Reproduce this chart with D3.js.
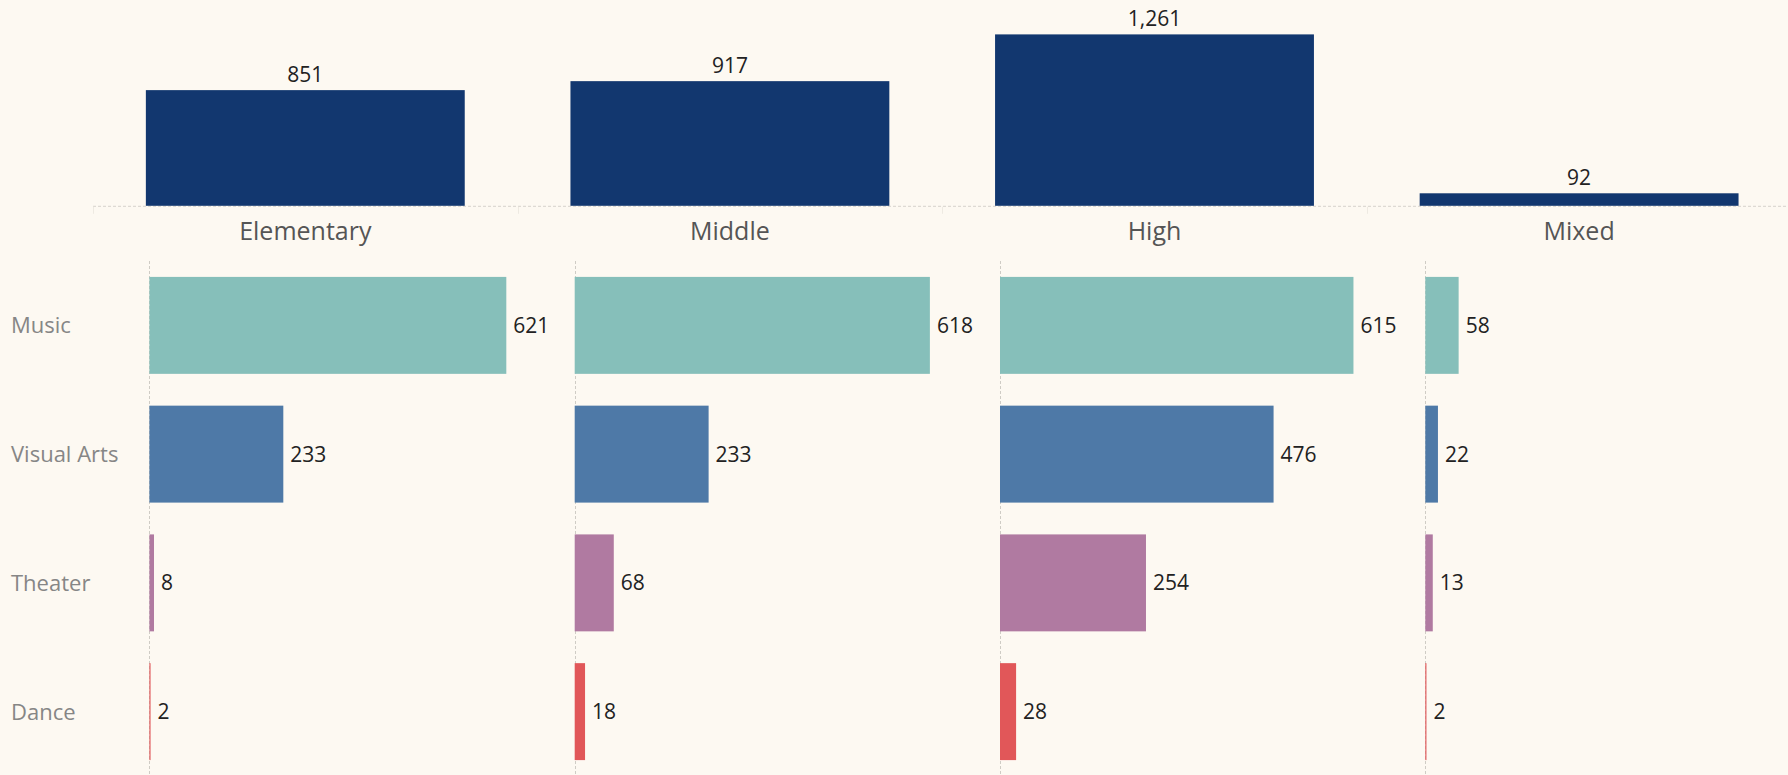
<!DOCTYPE html>
<html>
<head>
<meta charset="utf-8">
<script src="https://cdn.jsdelivr.net/npm/d3@7"></script>
<style>
  html, body { margin: 0; padding: 0; background: #FDF9F2; }
  svg { display: block; }
  text { font-family: "Open Sans", "Noto Sans", sans-serif; }
</style>
</head>
<body>
<svg id="chart" width="1788" height="775"></svg>
<script>
// School levels and total schools per level
const levels = ["Elementary", "Middle", "High", "Mixed"];
const totals = [851, 917, 1261, 92];

// Arts disciplines offered, by level
const disciplines = ["Music", "Visual Arts", "Theater", "Dance"];
const music      = [621, 618, 615, 58];
const visualArts = [233, 233, 476, 22];
const theater    = [8, 68, 254, 13];
const dance      = [2, 18, 28, 2];
const disciplineColors = ["#86BFBA", "#4E79A7", "#B07AA1", "#E15759"];

const series = [music, visualArts, theater, dance];
const fmt = d3.format(",");

const svg = d3.select("#chart");
const W = 1788, H = 775;

svg.append("rect").attr("width", W).attr("height", H).attr("fill", "#FDF9F2");

// ---------- Totals by level ----------
const topBase = 205.8;
const topLeft = 93;
const topPaneW = 424.6;
const xTop = d3.scaleBand().domain(levels).range([topLeft, topLeft + levels.length * topPaneW])
  .paddingInner(0.249).paddingOuter(0.1245);
const yTop = d3.scaleLinear().domain([0, 1400]).range([topBase, topBase - 190.3]);

const totalsG = svg.append("g");

// baseline
totalsG.append("line")
  .attr("x1", topLeft).attr("x2", W)
  .attr("y1", topBase + 0.5).attr("y2", topBase + 0.5)
  .attr("stroke", "#d6d3cc").attr("stroke-dasharray", "3,2");

// faint pane separators under the baseline
d3.range(levels.length).forEach(i => {
  const x = Math.round(topLeft + i * xTop.step()) + 0.5;
  totalsG.append("line")
    .attr("x1", x).attr("x2", x)
    .attr("y1", topBase + 1).attr("y2", topBase + 8)
    .attr("stroke", "#eeeae2");
});

totalsG.selectAll("rect.total").data(levels).join("rect")
  .attr("class", "total")
  .attr("x", d => xTop(d))
  .attr("width", xTop.bandwidth())
  .attr("y", (d, i) => yTop(totals[i]))
  .attr("height", (d, i) => topBase - yTop(totals[i]))
  .attr("fill", "#12376F");

totalsG.selectAll("text.total").data(levels).join("text")
  .attr("class", "total")
  .attr("x", d => xTop(d) + xTop.bandwidth() / 2)
  .attr("y", (d, i) => yTop(totals[i]) - 8)
  .attr("text-anchor", "middle")
  .attr("font-size", 21)
  .attr("fill", "#222")
  .text((d, i) => fmt(totals[i]));

totalsG.selectAll("text.header").data(levels).join("text")
  .attr("class", "header")
  .attr("x", d => xTop(d) + xTop.bandwidth() / 2)
  .attr("y", 240)
  .attr("text-anchor", "middle")
  .attr("font-size", 25)
  .attr("fill", "#555")
  .text(d => d);

// ---------- Disciplines by level ----------
const paneLeft = 149.4, paneW = 425.3;
const xPane = d3.scaleBand().domain(levels)
  .range([paneLeft, paneLeft + levels.length * paneW]);
const xVal = d3.scaleLinear().domain([0, 740]).range([0, paneW]);
const yRow = d3.scaleBand().domain(disciplines).range([261, 776])
  .paddingInner(0.247).paddingOuter(0.1235);

const detailG = svg.append("g");

// zero lines for each pane
levels.forEach(lv => {
  const x = Math.round(xPane(lv)) + 0.5;
  detailG.append("line")
    .attr("x1", x).attr("x2", x)
    .attr("y1", 261).attr("y2", H)
    .attr("stroke", "#cfccc5").attr("stroke-dasharray", "3,2");
});

// row labels
detailG.selectAll("text.row").data(disciplines).join("text")
  .attr("class", "row")
  .attr("x", 11)
  .attr("y", d => yRow(d) + yRow.bandwidth() / 2)
  .attr("dy", "0.36em")
  .attr("font-size", 22)
  .attr("fill", "#868686")
  .text(d => d);

const cells = [];
disciplines.forEach((disc, r) => {
  levels.forEach((lv, c) => {
    cells.push({ disc, lv, value: series[r][c], color: disciplineColors[r] });
  });
});

detailG.selectAll("rect.cell").data(cells).join("rect")
  .attr("class", "cell")
  .attr("x", d => xPane(d.lv) + xVal(0))
  .attr("y", d => yRow(d.disc))
  .attr("width", d => xVal(d.value) - xVal(0))
  .attr("height", yRow.bandwidth())
  .attr("fill", d => d.color);

detailG.selectAll("text.cell").data(cells).join("text")
  .attr("class", "cell")
  .attr("x", d => xPane(d.lv) + xVal(d.value) + 7)
  .attr("y", d => yRow(d.disc) + yRow.bandwidth() / 2)
  .attr("dy", "0.36em")
  .attr("font-size", 21)
  .attr("fill", "#222")
  .text(d => fmt(d.value));
</script>
</body>
</html>
